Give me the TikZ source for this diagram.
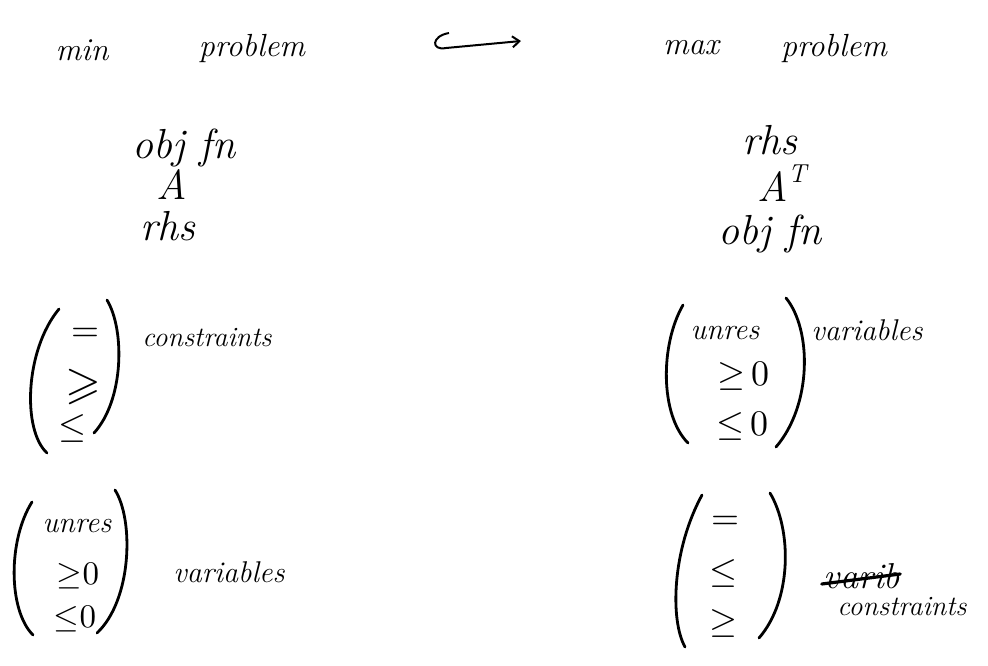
\documentclass[tikz,border=0pt]{standalone}
\usepackage{amssymb}
\usetikzlibrary{arrows.meta,calc}
\newcommand{\bigsym}[1]{\scalebox{3.6}{#1}}
\begin{document}
\begin{tikzpicture}[x=1pt,y=-1pt,
  hwtitle/.style={font=\fontsize{32}{34}\selectfont\itshape, inner sep=0pt},
  hwbig/.style={font=\fontsize{42}{44}\selectfont\itshape, inner sep=0pt},
  hw/.style={font=\fontsize{30}{32}\selectfont\itshape, inner sep=0pt},
  hwsmall/.style={font=\fontsize{28}{30}\selectfont\itshape, inner sep=0pt},
  sym/.style={font=\normalsize, inner sep=0pt},
  paren/.style={line width=2.8pt, line cap=round},
  strike/.style={line width=3.2pt, line cap=round}]
\useasboundingbox (0,0) rectangle (988,665);
% title row
\node[hwtitle] (min) at (82,50) {min};
\node[hwtitle] (minprob) at (252,48) {problem};
\node[hwtitle] (max) at (691,48) {max};
\node[hwtitle] (maxprob) at (834,48) {problem};
\coordinate (arrA) at (449,33);
\coordinate (arrB) at (521,41);
\draw[line width=2pt, -{Straight Barb[length=7pt,width=11pt]}] (arrA) .. controls (431,36) and (431,51) .. (446,48) -- (arrB);
% left data
\node[hwbig] (objL) at (184,148) {obj fn};
\node[hwbig] (AL) at (172,184) {A};
\node[hwbig] (rhsL) at (168,226) {rhs};
% right data
\node[hwbig] (rhsR) at (770,140) {rhs};
\node[hwbig] (ATR) at (782,183) {A\raisebox{0.45em}{\fontsize{26}{26}\selectfont T}};
\node[hwbig] (objR) at (770,234) {obj fn};
% left group 1
\draw[paren] (59,309) .. controls (25,350) and (22,430) .. (47,453);
\draw[paren] (107,300) .. controls (125,330) and (124,400) .. (94,433);
\node[sym] (eqL) at (85,335) {\bigsym{$=$}};
\node[sym] (geL) at (83,387) {\scalebox{4.6}{$\geqslant$}};
\node[sym] (leL) at (72,428) {\bigsym{$\leq$}};
\node[hwsmall] (consL) at (207,338) {constraints};
% right group 1
\draw[paren] (683,305) .. controls (660,345) and (660,415) .. (688,443);
\draw[paren] (786,298) .. controls (812,330) and (812,405) .. (776,447);
\node[hw] (unresR) at (725,333) {unres};
\node[sym] (geR) at (743,376) {\bigsym{${\geq}\,0$}};
\node[sym] (leR) at (742,426) {\bigsym{${\leq}\,0$}};
\node[hw] (varR) at (867,330) {variables};
% left group 2
\draw[paren] (32,502) .. controls (8,540) and (8,610) .. (33,635);
\draw[paren] (115,490) .. controls (134,520) and (132,600) .. (97,633);
\node[hw] (unresL) at (77,526) {unres};
\node[sym] (geL2) at (78,576) {\scalebox{3.3}{${\geq}0$}};
\node[sym] (leL2) at (75,619) {\scalebox{3.3}{${\leq}0$}};
\node[hw] (varL) at (229,572) {variables};
% right group 2
\draw[paren] (702,495) .. controls (672,550) and (670,620) .. (685,647);
\draw[paren] (770,493) .. controls (792,530) and (792,600) .. (759,638);
\node[sym] (eqR2) at (725,523) {\bigsym{$=$}};
\node[sym] (leR2) at (723,573) {\bigsym{$\leq$}};
\node[sym] (geR2) at (723,623) {\bigsym{$\geq$}};
\node[font=\fontsize{36}{38}\selectfont\itshape, inner sep=0pt] (varib) at (862,576) {varib};
\draw[strike] ($(varib.west)+(-2,8)$) -- ($(varib.east)+(0,-2)$);
\node[hwsmall] (consR) at (902,607) {constraints};
\end{tikzpicture}
\end{document}
